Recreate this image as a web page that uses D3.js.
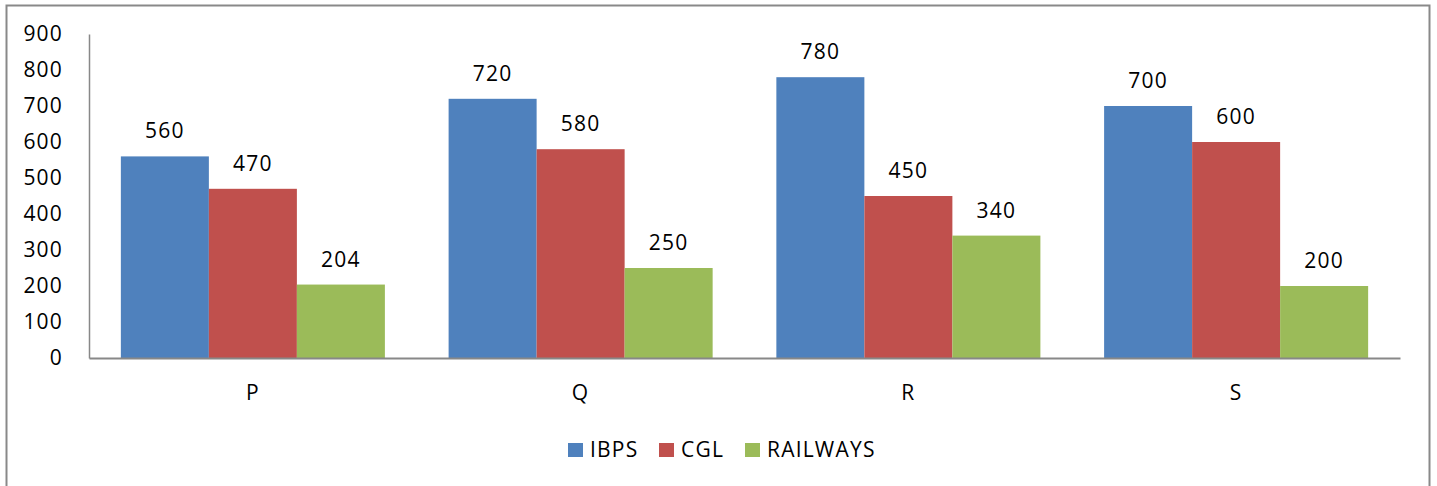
<!DOCTYPE html>
<html>
<head>
<meta charset="utf-8">
<script src="https://cdn.jsdelivr.net/npm/d3@7"></script>
<style>
  html, body { margin: 0; padding: 0; background: #fff; }
  svg { display: block; font-family: "Open Sans", "Liberation Sans", sans-serif; }
  svg text { letter-spacing: 1.2px; }
</style>
</head>
<body>
<svg id="chart" width="1437" height="486"></svg>
<script>
// Candidates per group, by exam
const categories = ["P", "Q", "R", "S"];
const seriesNames = ["IBPS", "CGL", "RAILWAYS"];
const ibps = [560, 720, 780, 700];
const cgl = [470, 580, 450, 600];
const railways = [204, 250, 340, 200];
const yTicks = [0, 100, 200, 300, 400, 500, 600, 700, 800, 900];

const seriesValues = [ibps, cgl, railways];
const colors = ["#4F81BD", "#C0504D", "#9BBB59"];
const FONT = 21;

const svg = d3.select("#chart");

// outer chart frame
svg.append("rect")
  .attr("x", 6.5).attr("y", 5.5)
  .attr("width", 1423).attr("height", 500)
  .attr("fill", "#fff")
  .attr("stroke", "#898989").attr("stroke-width", 2);

const plot = { left: 89, right: 1400, top: 34, bottom: 358 };

const x0 = d3.scaleBand().domain(categories).range([plot.left, plot.right]).paddingInner(0).paddingOuter(0);
const x1 = d3.scaleBand().domain(seriesNames).range([0, x0.bandwidth()]).paddingInner(0).paddingOuter(0.362);
const y = d3.scaleLinear().domain([0, 900]).range([plot.bottom, plot.top]);

// bars
const groups = svg.append("g").selectAll("g")
  .data(categories)
  .join("g")
  .attr("transform", c => `translate(${x0(c)},0)`);

groups.selectAll("rect")
  .data((c, i) => seriesNames.map((s, k) => ({ s, k, v: seriesValues[k][i] })))
  .join("rect")
  .attr("x", d => x1(d.s))
  .attr("y", d => y(d.v))
  .attr("width", x1.bandwidth())
  .attr("height", d => y(0) - y(d.v))
  .attr("fill", d => colors[d.k]);

// value labels
groups.selectAll("text")
  .data((c, i) => seriesNames.map((s, k) => ({ s, k, v: seriesValues[k][i] })))
  .join("text")
  .attr("x", d => x1(d.s) + x1.bandwidth() / 2)
  .attr("y", d => y(d.v) - 18)
  .attr("text-anchor", "middle")
  .attr("font-size", FONT)
  .attr("fill", "#000")
  .text(d => d.v);

// y axis
const yAxis = d3.axisLeft(y).tickValues(yTicks).tickSize(0).tickPadding(26);
const yg = svg.append("g").attr("transform", `translate(${plot.left},0)`).call(yAxis);
yg.select(".domain").attr("stroke", "#888").attr("stroke-width", 1.5);
yg.selectAll("text").attr("font-size", FONT).attr("fill", "#000")
  .attr("font-family", "\"Open Sans\", sans-serif");

// x axis
const xAxis = d3.axisBottom(x0).tickSize(0).tickPadding(27);
const xg = svg.append("g").attr("transform", `translate(0,${plot.bottom})`).call(xAxis);
xg.select(".domain").attr("stroke", "#888").attr("stroke-width", 2);
xg.selectAll("text").attr("font-size", FONT).attr("fill", "#000")
  .attr("font-family", "\"Open Sans\", sans-serif");

// legend
const legendX = [568, 659, 745];
const legend = svg.append("g").selectAll("g")
  .data(seriesNames)
  .join("g")
  .attr("transform", (d, i) => `translate(${legendX[i]},443)`);
legend.append("rect")
  .attr("width", 15).attr("height", 14)
  .attr("fill", (d, i) => colors[i]);
legend.append("text")
  .attr("x", 22).attr("y", 14)
  .attr("font-size", FONT)
  .attr("fill", "#000")
  .text(d => d);
</script>
</body>
</html>
